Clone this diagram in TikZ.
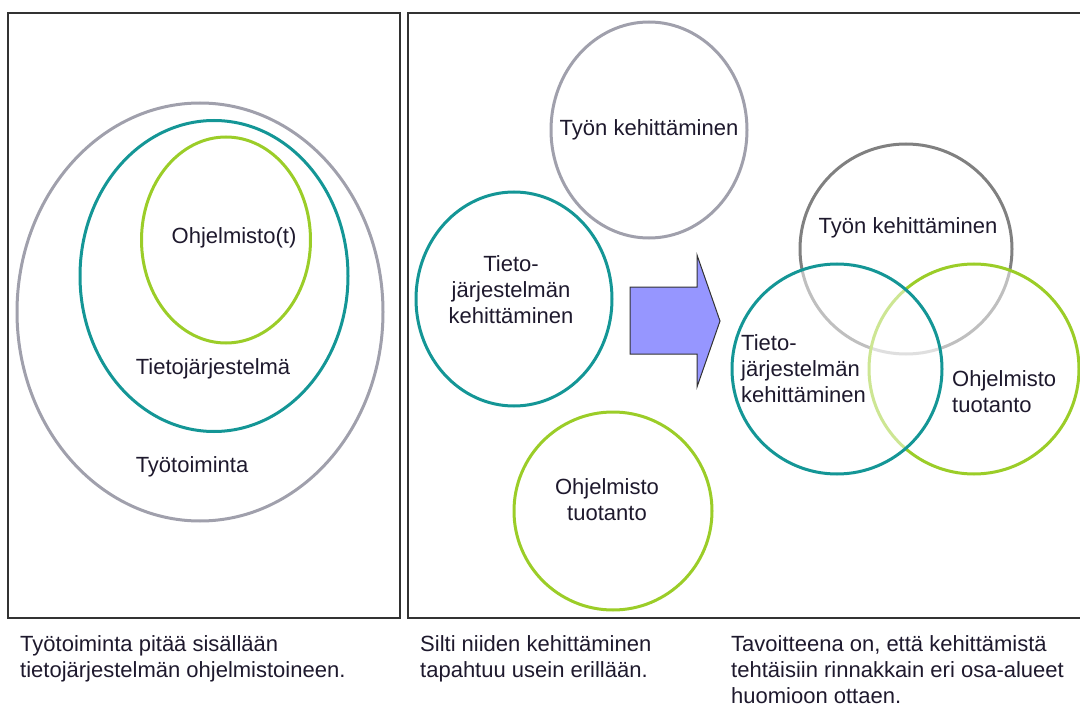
\documentclass[tikz,border=0pt]{standalone}
\usepackage{fontspec}
\setmainfont{Liberation Sans}
\usetikzlibrary{shapes.geometric}

\definecolor{ringgray}{RGB}{160,160,172}
\definecolor{ringteal}{RGB}{20,150,150}
\definecolor{ringgreen}{RGB}{155,205,40}
\definecolor{venngray}{RGB}{128,128,128}
\definecolor{arrowfill}{RGB}{150,150,255}
\definecolor{inktext}{RGB}{30,25,45}
\definecolor{frame}{RGB}{50,50,50}

\tikzset{
  ring/.style={ellipse, draw, line width=3pt, inner sep=0pt},
  lbl/.style={font=\fontsize{22}{26}\selectfont, text=inktext, inner sep=0pt},
  caption/.style={lbl, align=left, anchor=north west},
  panel/.style={draw=frame, line width=1.5pt},
}

\begin{document}
\begin{tikzpicture}[x=1pt, y=-1pt]
  \useasboundingbox (0,0) rectangle (1080,706);
  \clip (0,0) rectangle (1080,706);

  % panels
  \draw[panel] (8,13) rectangle (400,618);
  \draw[panel] (408,13) rectangle (1090,618);

  % left panel: nested scopes
  \node[ring, draw=ringgray,  minimum width=366pt, minimum height=418pt] (work) at (200,312) {};
  \node[ring, draw=ringteal,  minimum width=268pt, minimum height=311pt] (is)   at (214,276) {};
  \node[ring, draw=ringgreen, minimum width=169pt, minimum height=206pt] (sw)   at (226,240) {};
  \node[lbl] (swl)   at (234,238) {Ohjelmisto(t)};
  \node[lbl] (isl)   at (213,369) {Tietojärjestelmä};
  \node[lbl] (workl) at (192,467) {Työtoiminta};

  % middle: separate development areas
  \node[ring, draw=ringgray,  minimum width=196pt, minimum height=216pt] (dev)   at (649,130) {};
  \node[ring, draw=ringteal,  minimum width=196pt, minimum height=214pt] (isdev) at (514,299) {};
  \node[ring, draw=ringgreen, minimum width=198pt, minimum height=198pt] (swdev) at (613,511) {};
  \node[lbl] at (dev) {Työn kehittäminen};
  \node[lbl, align=center] at (511,290) {Tieto-\\järjestelmän\\kehittäminen};
  \node[lbl, align=center] at (607,500) {Ohjelmisto\\tuotanto};

  % block arrow
  \draw[fill=arrowfill, draw=frame, line width=1pt, line join=miter]
    (630,287) -- (697,287) -- (697,255) -- (720,321) -- (697,387)
    -- (697,354) -- (630,354) -- cycle;

  % right: overlapping development areas
  \node[ring, draw=venngray, minimum width=212pt, minimum height=210pt] (vdev) at (906,249) {};
  \node[ring, draw=ringgreen, fill=white, fill opacity=0.5, minimum width=210pt, minimum height=210pt] (vsw) at (974,369) {};
  \node[ring, draw=ringteal, fill=white, fill opacity=0.5, minimum width=210pt, minimum height=210pt] (vis) at (837,369) {};
  \node[lbl] at (908,228) {Työn kehittäminen};
  \node[lbl, align=left, anchor=west] at (741,369) {Tieto-\\järjestelmän\\kehittäminen};
  \node[lbl, align=left, anchor=west] at (952,392) {Ohjelmisto\\tuotanto};

  % captions
  \node[caption] (c1) at (20,635)  {Työtoiminta pitää sisällään\\tietojärjestelmän ohjelmistoineen.};
  \node[caption] (c2) at (420,635) {Silti niiden kehittäminen\\tapahtuu usein erillään.};
  \node[caption] (c3) at (731,635) {Tavoitteena on, että kehittämistä\\tehtäisiin rinnakkain eri osa-alueet\\huomioon ottaen.};
\end{tikzpicture}
\end{document}
